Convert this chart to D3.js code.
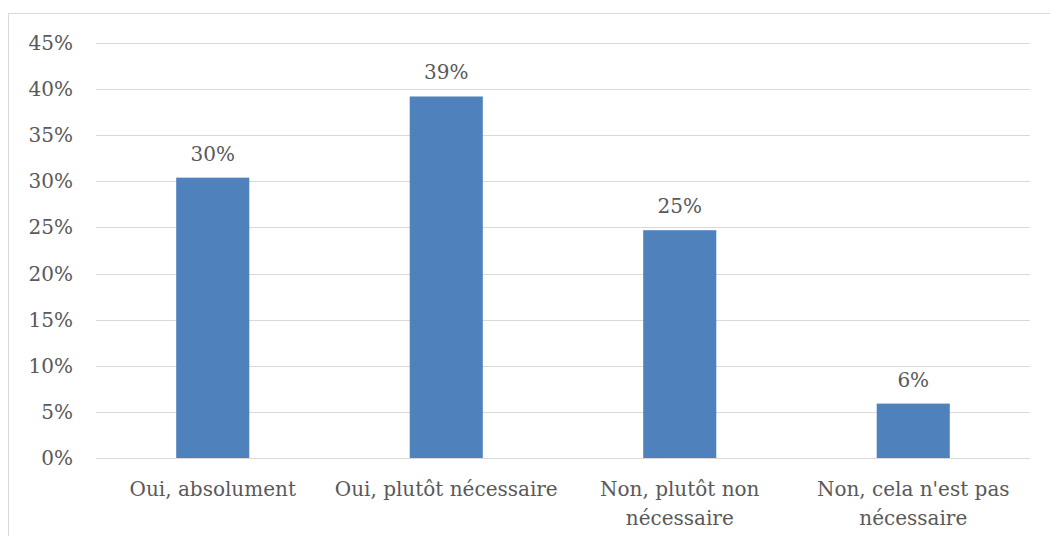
<!DOCTYPE html>
<html>
<head>
<meta charset="utf-8">
<script src="https://cdn.jsdelivr.net/npm/d3@7"></script>
<style>
  html, body { margin: 0; padding: 0; background: #fff; }
  svg { display: block; }
  text { font-family: "DejaVu Serif", serif; fill: #595959; }
</style>
</head>
<body>
<svg id="chart" width="1050" height="536"></svg>
<script>
// Survey answers and their shares (percent)
const categories = [
  ["Oui, absolument"],
  ["Oui, plutôt nécessaire"],
  ["Non, plutôt non", "nécessaire"],
  ["Non, cela n'est pas", "nécessaire"]
];
const values = [30.4, 39.2, 24.7, 5.9];
const yTicks = [0, 5, 10, 15, 20, 25, 30, 35, 40, 45];

const svg = d3.select("#chart");
const plot = { left: 96, right: 1030, top: 43, bottom: 458 };
const fontSize = 20;

// Outer chart frame
svg.append("rect")
  .attr("x", 8.5).attr("y", 13.5)
  .attr("width", 1060).attr("height", 560)
  .attr("fill", "none").attr("stroke", "#d9d9d9").attr("stroke-width", 1);

const x = d3.scaleBand()
  .domain(d3.range(categories.length))
  .range([plot.left, plot.right])
  .padding(0);

const y = d3.scaleLinear()
  .domain([0, 45])
  .range([plot.bottom, plot.top]);

// Horizontal gridlines
svg.append("g")
  .selectAll("line")
  .data(yTicks)
  .join("line")
  .attr("x1", plot.left).attr("x2", plot.right)
  .attr("y1", d => Math.round(y(d)) + 0.5)
  .attr("y2", d => Math.round(y(d)) + 0.5)
  .attr("stroke", "#d9d9d9").attr("stroke-width", 1);

// Y axis labels
svg.append("g")
  .selectAll("text")
  .data(yTicks)
  .join("text")
  .attr("x", 73)
  .attr("y", d => y(d))
  .attr("dy", "0.35em")
  .attr("text-anchor", "end")
  .attr("font-size", fontSize)
  .text(d => d + "%");

const barW = x.bandwidth() * 0.313;

// Bars
svg.append("g")
  .selectAll("rect")
  .data(values)
  .join("rect")
  .attr("x", (d, i) => x(i) + x.bandwidth() / 2 - barW / 2)
  .attr("y", d => y(d))
  .attr("width", barW)
  .attr("height", d => y(0) - y(d))
  .attr("fill", "#4f81bd");

// Value labels
svg.append("g")
  .selectAll("text")
  .data(values)
  .join("text")
  .attr("x", (d, i) => x(i) + x.bandwidth() / 2)
  .attr("y", d => y(d) - 17)
  .attr("text-anchor", "middle")
  .attr("font-size", fontSize)
  .text(d => Math.round(d) + "%");

// Category labels
const catG = svg.append("g")
  .selectAll("text")
  .data(categories)
  .join("text")
  .attr("x", (d, i) => x(i) + x.bandwidth() / 2)
  .attr("y", 496)
  .attr("text-anchor", "middle")
  .attr("font-size", fontSize);
catG.selectAll("tspan")
  .data(d => d)
  .join("tspan")
  .attr("x", function () { return d3.select(this.parentNode).attr("x"); })
  .attr("dy", (d, i) => i === 0 ? 0 : 29)
  .text(d => d);
</script>
</body>
</html>
